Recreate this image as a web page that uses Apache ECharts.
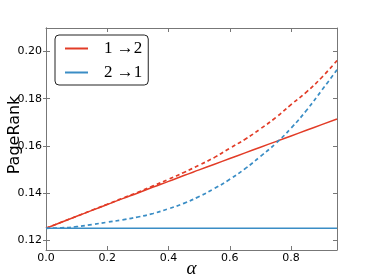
<!DOCTYPE html>
<html>
<head>
<meta charset="utf-8">
<script src="https://cdn.jsdelivr.net/npm/echarts@6/dist/echarts.min.js"></script>
<style>html,body{margin:0;padding:0;background:#fff}#c{width:374px;height:280px}</style>
</head>
<body>
<div id="c"></div>
<script>
const alphas = [0,0.05,0.1,0.15,0.2,0.25,0.3,0.35,0.4,0.45,0.5,0.55,0.6,0.65,0.7,0.75,0.8,0.85,0.9,0.95];
const red12Solid  = [0.1250,0.1276,0.1301,0.1326,0.1351,0.1376,0.1400,0.1425,0.1449,0.1474,0.1498,0.1522,0.1546,0.1570,0.1594,0.1618,0.1642,0.1666,0.1690,0.1714];
const red12Dashed = [0.1250,0.1276,0.1301,0.1327,0.1352,0.1378,0.1403,0.1430,0.1458,0.1487,0.1518,0.1551,0.1590,0.1628,0.1672,0.1720,0.1775,0.1828,0.1890,0.1962];
const blue21Dashed= [0.1250,0.1252,0.1257,0.1266,0.1276,0.1286,0.1298,0.1313,0.1333,0.1356,0.1385,0.1419,0.1458,0.1503,0.1555,0.1610,0.1675,0.1750,0.1835,0.1923];
const blue21Solid = [0.1250,0.1250,0.1250,0.1250,0.1250,0.1250,0.1250,0.1250,0.1250,0.1250,0.1250,0.1250,0.1250,0.1250,0.1250,0.1250,0.1250,0.1250,0.1250,0.1250];
const xTicks = [0,0.2,0.4,0.6,0.8];
const yTicks = [0.12,0.14,0.16,0.18,0.20];
const legendNames = ['1 \u21922','2 \u21921'];

const RED = '#e23c27', BLUE = '#3a8dc5', AX = '#777';
const pairs = ys => alphas.map((a,i)=>[a, ys[i]]);
const chart = echarts.init(document.getElementById('c'), null, {renderer:'canvas'});
const xBase = {type:'value', min:0, max:0.95, splitLine:{show:false},
  axisLine:{show:true, onZero:false, lineStyle:{color:AX, width:1}}};
const yBase = {type:'value', min:0.1158, max:0.21, splitLine:{show:false},
  axisLine:{show:true, onZero:false, lineStyle:{color:AX, width:1}}};
chart.setOption({
  animation:false,
  grid:{left:46, right:37, top:28, bottom:30, containLabel:false, outerBoundsMode:'none'},
  legend:{
    data:legendNames, orient:'vertical', left:55, top:35,
    icon:'rect', itemWidth:23, itemHeight:2, itemGap:7,
    padding:[5,6,4,10],
    borderColor:'#222', borderWidth:1, borderRadius:4, backgroundColor:'#fff',
    textStyle:{fontFamily:'Liberation Serif', fontSize:17, color:'#000', lineHeight:16, padding:[0,0,0,11]}
  },
  xAxis:[
    Object.assign({}, xBase, {position:'bottom',
      name:'\u03b1', nameLocation:'middle', nameGap:9, nameMoveOverlap:false,
      nameTextStyle:{fontFamily:'Liberation Serif', fontStyle:'italic', fontSize:19, color:'#000', verticalAlign:'top'},
      axisTick:{show:true, inside:true, length:4, lineStyle:{color:AX}, customValues:xTicks},
      axisLabel:{show:true, margin:3, fontFamily:'DejaVu Sans', fontSize:11, color:'#000',
        customValues:xTicks, formatter:v=>v.toFixed(1)}}),
    Object.assign({}, xBase, {position:'top',
      axisTick:{show:true, inside:true, length:4, lineStyle:{color:AX}, customValues:xTicks},
      axisLabel:{show:false}})
  ],
  yAxis:[
    Object.assign({}, yBase, {position:'left',
      name:'PageRank', nameLocation:'middle', nameGap:23, nameRotate:90, nameMoveOverlap:false,
      nameTextStyle:{fontFamily:'DejaVu Sans', fontSize:16, color:'#000', padding:[0,0,0,8]},
      axisTick:{show:true, inside:false, length:3, lineStyle:{color:AX}, customValues:yTicks},
      axisLabel:{show:true, margin:4, fontFamily:'DejaVu Sans', fontSize:11, color:'#000',
        customValues:yTicks, formatter:v=>v.toFixed(2)}}),
    Object.assign({}, yBase, {position:'right',
      axisTick:{show:true, inside:true, length:4, lineStyle:{color:AX}, customValues:yTicks},
      axisLabel:{show:false}}),
    Object.assign({}, yBase, {position:'left',
      axisTick:{show:true, inside:true, length:4, lineStyle:{color:AX}, customValues:yTicks},
      axisLabel:{show:false}})
  ],
  series:[
    {name:legendNames[0], type:'line', data:pairs(red12Solid), showSymbol:false, smooth:true,
      lineStyle:{color:RED, width:1.5}, itemStyle:{color:RED}},
    {name:'1to2d', type:'line', data:pairs(red12Dashed), showSymbol:false, smooth:true,
      lineStyle:{color:RED, width:1.7, type:[4,3]}, itemStyle:{color:RED}},
    {name:legendNames[1], type:'line', data:pairs(blue21Solid), showSymbol:false,
      lineStyle:{color:BLUE, width:1.5}, itemStyle:{color:BLUE}},
    {name:'2to1d', type:'line', data:pairs(blue21Dashed), showSymbol:false, smooth:true,
      lineStyle:{color:BLUE, width:1.7, type:[4,3]}, itemStyle:{color:BLUE}}
  ]
});
</script>
</body>
</html>
